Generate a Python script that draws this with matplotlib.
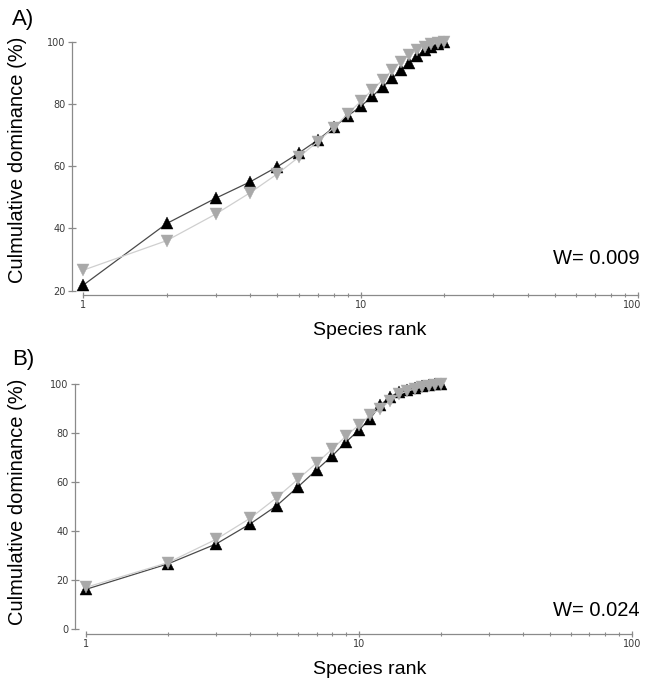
import matplotlib
matplotlib.use("Agg")
import matplotlib.pyplot as plt
from matplotlib.transforms import ScaledTranslation
from matplotlib.ticker import LogLocator, FixedLocator, NullFormatter, FixedFormatter

plt.rcParams['font.family'] = ['Liberation Sans', 'DejaVu Sans']

# Species rank (1 = most dominant)
rank = list(range(1, 21))

# Panel A: cumulative dominance (%) for the two assemblages
a_black = [21.8, 41.6, 49.7, 55.0, 59.8, 64.3, 68.4, 72.5, 76.2, 79.2,
           82.4, 85.5, 88.2, 91.0, 93.3, 95.5, 97.2, 98.4, 99.2, 100.0]
a_gray = [26.6, 36.1, 44.6, 51.5, 57.5, 63.0, 67.9, 72.4, 76.9, 80.8,
          84.5, 87.7, 90.9, 93.6, 95.7, 97.3, 98.4, 99.2, 99.7, 100.0]

# Panel B
b_black = [16.3, 26.7, 34.8, 43.0, 50.4, 58.2, 65.0, 70.8, 76.5, 81.2,
           85.9, 91.4, 94.8, 96.6, 97.6, 98.4, 99.0, 99.5, 99.8, 100.0]
b_gray = [17.1, 27.2, 36.7, 45.3, 53.7, 61.3, 67.8, 73.5, 78.9, 83.3,
          87.2, 90.0, 93.1, 95.8, 97.0, 98.0, 98.8, 99.3, 99.7, 100.0]

a_yticks = [20, 40, 60, 80, 100]
b_yticks = [0, 20, 40, 60, 80, 100]
x_ticks = [1, 10, 100]
x_ticklabels = ["1", "10", "100"]

panel_labels = ["A)", "B)"]
w_labels = ["W= 0.009", "W= 0.024"]

W, H = 645, 683
fig = plt.figure(figsize=(W / 100, H / 100), dpi=100)

SPINE = "#8a8a8a"
TICKTXT = "#3a3a3a"


def px_axes(left, right, top, bottom):
    return fig.add_axes([left / W, 1 - bottom / H, (right - left) / W, (bottom - top) / H])


def style_axes(ax, yticks, left_out, bottom_out):
    ax.set_xscale("log")
    ax.set_xlim(1, 100)
    ax.set_ylim(yticks[0], yticks[-1])
    for side in ("top", "right"):
        ax.spines[side].set_visible(False)
    ax.spines["left"].set_position(("outward", left_out))
    ax.spines["bottom"].set_position(("outward", bottom_out))
    for side in ("left", "bottom"):
        ax.spines[side].set_color(SPINE)
        ax.spines[side].set_linewidth(0.9)
    ax.spines["left"].set_bounds(yticks[0], yticks[-1])
    ax.spines["bottom"].set_bounds(1, 100)
    ax.set_yticks(yticks)
    ax.xaxis.set_major_locator(FixedLocator(x_ticks))
    ax.xaxis.set_major_formatter(FixedFormatter(x_ticklabels))
    ax.xaxis.set_minor_locator(LogLocator(base=10, subs=range(2, 10)))
    ax.xaxis.set_minor_formatter(NullFormatter())
    ax.tick_params(axis="y", which="major", direction="inout", length=6,
                   width=0.9, color=SPINE, labelsize=7, labelcolor=TICKTXT, pad=1.5)
    ax.tick_params(axis="x", which="major", direction="inout", length=5,
                   width=0.9, color=SPINE, labelsize=7, labelcolor=TICKTXT, pad=1)
    ax.tick_params(axis="x", which="minor", direction="inout", length=2.5,
                   width=0.8, color=SPINE)
    for lab in ax.get_xticklabels() + ax.get_yticklabels():
        lab.set_family("DejaVu Sans")
    ax.patch.set_visible(False)


def draw_series(ax, black, gray):
    ax.plot(rank, black, color="#4a4a4a", lw=0.9, marker="^", ms=8,
            mfc="black", mec="black", mew=0.3, clip_on=False, zorder=3)
    ax.plot(rank, gray, color="#cfcfcf", lw=0.9, marker="v", ms=8,
            mfc="#a9a9a9", mec="#a9a9a9", mew=0.3, clip_on=False, zorder=4)


axA = px_axes(83.3, 638, 41.7, 290.7)
style_axes(axA, a_yticks, 8.4, 3.1)
draw_series(axA, a_black, a_gray)

axB = px_axes(86, 631.7, 384, 629.3)
style_axes(axB, b_yticks, 7.9, 3.4)
draw_series(axB, b_black, b_gray)

# keep the last x tick label of the upper panel inside the figure edge
fig.canvas.draw()
last = axA.get_xticklabels()[-1]
last.set_transform(last.get_transform() + ScaledTranslation(-4 / 72, 0, fig.dpi_scale_trans))

for ax, xl, yl in ((axA, (0.517, -0.158), (-0.118, 0.525)),
                   (axB, (0.520, -0.162), (-0.125, 0.521))):
    ax.set_xlabel("Species rank", fontsize=14)
    ax.xaxis.label.set_verticalalignment("center")
    ax.xaxis.set_label_coords(*xl)
    ax.set_ylabel("Culmulative dominance (%)", fontsize=14.5)
    ax.yaxis.label.set_verticalalignment("center")
    ax.yaxis.set_label_coords(*yl)

fig.text(12 / W, 1 - 19 / H, panel_labels[0], fontsize=16, va="center", ha="left")
fig.text(12 / W, 1 - 359 / H, panel_labels[1], fontsize=16, va="center", ha="left")
fig.text(640 / W, 1 - 258.5 / H, w_labels[0], fontsize=14.5, va="center", ha="right")
fig.text(640 / W, 1 - 610.5 / H, w_labels[1], fontsize=14.5, va="center", ha="right")

fig.savefig("out.png", dpi=100)
